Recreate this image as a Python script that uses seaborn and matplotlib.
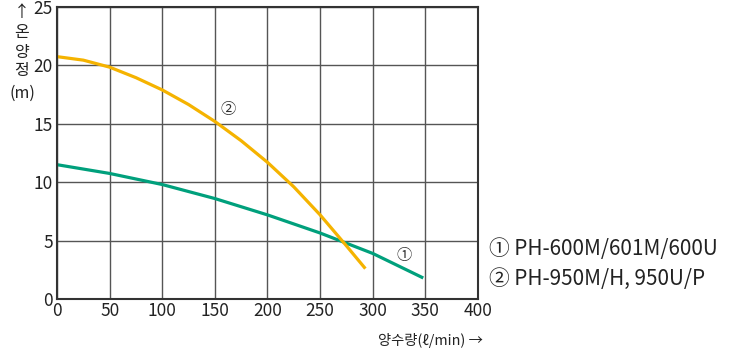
import pandas as pd
import matplotlib.pyplot as plt
import seaborn as sns

flow_1 = [0, 50, 100, 150, 200, 250, 300, 348]
head_1 = [11.5, 10.75, 9.8, 8.6, 7.2, 5.65, 3.9, 1.8]

flow_2 = [0, 25, 50, 75, 100, 125, 150, 175, 200, 225, 250, 275, 293]
head_2 = [20.75, 20.45, 19.85, 18.95, 17.9, 16.65, 15.2, 13.55, 11.7, 9.6, 7.2, 4.55, 2.6]

labels = ['① PH-600M/601M/600U', '② PH-950M/H, 950U/P']
x_ticks = [0, 50, 100, 150, 200, 250, 300, 350, 400]
y_ticks = [0, 5, 10, 15, 20, 25]

green = '#00A07C'
yellow = '#F5B300'

sns.set_style('white')
plt.rcParams['font.family'] = ['Noto Sans CJK KR', 'DejaVu Sans']

df1 = pd.DataFrame({'flow': flow_1, 'head': head_1})
df2 = pd.DataFrame({'flow': flow_2, 'head': head_2})

fig = plt.figure(figsize=(7.34, 3.5), dpi=100)
W, H = 734, 350
ax = fig.add_axes([57 / W, (H - 299) / H, 421 / W, 292 / H])

kw = dict(lw=2.3, solid_joinstyle='round', solid_capstyle='butt')
sns.lineplot(data=df1, x='flow', y='head', color=green, ax=ax, **kw)
sns.lineplot(data=df2, x='flow', y='head', color=yellow, ax=ax, **kw)

ax.set_xlim(0, 400)
ax.set_ylim(0, 25)
ax.set_xticks(x_ticks)
ax.set_yticks(y_ticks)
ax.grid(True, color='#555555', lw=1.0)
for s in ax.spines.values():
    s.set_color('#333333')
    s.set_linewidth(1.5)
ax.tick_params(length=0, labelsize=12.5, colors='#222222')
ax.tick_params(axis='y', pad=3)
ax.tick_params(axis='x', pad=2)
ax.set_xlabel('')
ax.set_ylabel('')

# curve markers
ax.text(163, 16.2, '②', fontsize=11, ha='center', va='center', color='#333333')
ax.text(330, 3.7, '①', fontsize=11, ha='center', va='center', color='#333333')

# y label stacked vertically
for txt, py in [('↑', 12), ('온', 33), ('양', 52), ('정', 71), ('(m)', 93)]:
    fig.text(22 / W, 1 - py / H, txt, fontsize=11.5, ha='center', va='center', color='#222222')

fig.text(430 / W, 1 - 340 / H, '양수량(ℓ/min) →', fontsize=10.3, ha='center', va='center', color='#222222')

fig.text(489 / W, 1 - 249 / H, labels[0], fontsize=14.9, ha='left', va='center', color='#222222')
fig.text(489 / W, 1 - 279 / H, labels[1], fontsize=14.9, ha='left', va='center', color='#222222')

fig.savefig('out.png', dpi=100)
